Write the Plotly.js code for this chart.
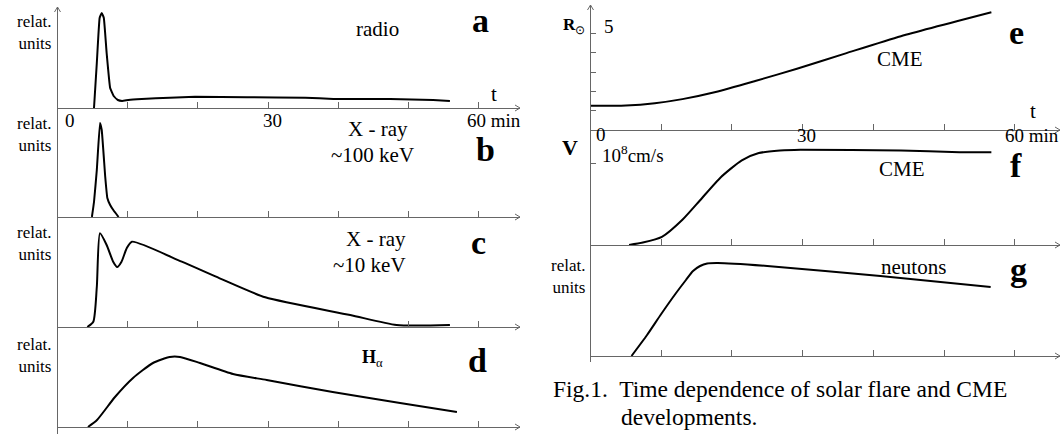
<!DOCTYPE html>
<html><head><meta charset="utf-8">
<script src="https://cdn.plot.ly/plotly-3.0.1.min.js"></script>
<style>html,body{margin:0;padding:0;background:#fff}#g{width:1063px;height:434px}</style>
</head><body><div id="g"></div>
<script>
// ---- data (time in minutes) ----
const tRadio = [5.2, 5.6, 6.0, 6.3, 6.6, 7.0, 7.5, 8.0, 8.6, 9.2, 10.1, 12, 16, 19.6, 27, 35.3, 39.3, 47.4, 53.5, 55.9];
const vRadio = [0, 45, 90, 95, 90, 55, 20, 12, 8, 7, 8, 9, 10.3, 11.3, 10.7, 10.3, 9, 9, 8, 7];
const tHard = [4.9, 5.2, 5.6, 6.05, 6.3, 6.8, 7.1, 7.5, 7.95, 8.7];
const vHard = [0, 15, 47, 94, 87, 40, 19, 12, 7, 0];
const tSoft = [4.25, 5.1, 5.6, 6.05, 7.0, 7.95, 8.5, 9.1, 9.86, 10.6, 17.7, 23.1, 29.6, 41.7, 48.3, 55.9];
const vSoft = [0, 5.3, 40, 93.7, 82, 65, 60, 65, 78.7, 85.3, 65.3, 48.7, 29.7, 12, 2, 2];
const tHa = [4.34, 5.63, 8.19, 10.76, 13.6, 16.0, 17.45, 20.3, 25.0, 29.8, 39.2, 48.8, 56.9];
const vHa = [0, 7, 30, 49, 64, 70, 70, 64, 53, 47, 35, 24, 15];
const tR = [0, 5, 9.1, 13.0, 17.7, 23.3, 29.2, 36.1, 43.9, 56.7];
const vR = [1.25, 1.27, 1.39, 1.60, 1.97, 2.54, 3.17, 3.97, 4.86, 6.10];
const tV = [5.46, 7.4, 10.1, 13.0, 15.5, 18.4, 21.4, 23.8, 26.8, 29.7, 43.9, 52.2, 56.7];
const vV = [0, 0.03, 0.1, 0.31, 0.55, 0.83, 1.04, 1.13, 1.16, 1.17, 1.16, 1.14, 1.14];
const tN = [5.8, 8, 10, 12, 13.5, 14.5, 15.5, 16.5, 18, 25, 41, 56.6];
const vN = [0, 21, 42, 62, 76, 85, 90, 92.5, 93, 90, 80, 69];
const tickT = [10, 20, 30, 40, 50, 60];
const tickR = [1, 2, 3, 4, 5];
const tickV = [1];

// ---- layout helpers (pixel -> paper) ----
const W = 1063, H = 434;
const px = x => x / W, py = y => 1 - y / H;
const AX = '#666', FONT = 'Liberation Serif, Times New Roman, serif';

function xax(x0, x1, scale, yPos) {
  return {domain: [px(x0), px(x1)], range: [0, (x1 - x0) / scale], anchor: 'free', position: py(yPos),
    showline: true, linecolor: AX, linewidth: 1, ticks: 'inside', tickvals: tickT, ticklen: 6,
    tickcolor: AX, tickwidth: 1, showticklabels: false, showgrid: false, zeroline: false, fixedrange: true};
}
function yax(xa, yBot, yTop, r0, r1, tv) {
  return {domain: [py(yBot), py(yTop)], range: [r0, r1], anchor: xa, showline: true, linecolor: AX, linewidth: 1,
    ticks: tv ? 'inside' : '', tickvals: tv || [], ticklen: 5, tickcolor: AX, tickwidth: 1,
    showticklabels: false, showgrid: false, zeroline: false, fixedrange: true};
}

const LS = 7.02, RS = 7.07;
const layout = {
  width: W, height: H, margin: {l: 0, r: 0, t: 0, b: 0, pad: 0},
  paper_bgcolor: '#fff', plot_bgcolor: 'rgba(0,0,0,0)', showlegend: false,
  font: {family: FONT, color: '#000'},
  xaxis: xax(57.5, 520, LS, 108), yaxis: yax('x', 108, 7, 0, 101),
  xaxis2: xax(57.5, 520, LS, 217), yaxis2: yax('x2', 217, 108, 0, 109),
  xaxis3: xax(57.5, 520, LS, 327), yaxis3: yax('x3', 327, 217, 0, 110),
  xaxis4: xax(57.5, 520, LS, 427), yaxis4: yax('x4', 434, 327, -7, 100),
  xaxis5: xax(590.5, 1060, RS, 130), yaxis5: yax('x5', 130, 5, 0, (130 - 5) / 19.3, tickR),
  xaxis6: xax(590.5, 1060, RS, 245), yaxis6: yax('x6', 245, 130, 0, (245 - 130) / 81.4, tickV),
  xaxis7: xax(590.5, 1060, RS, 356), yaxis7: yax('x7', 362, 245, -6, 111),
  annotations: [], shapes: []
};

const L = {color: '#000', width: 2, shape: 'spline', smoothing: 0.5};
const series = [[tRadio, vRadio, 'x', 'y', 0.3], [tHard, vHard, 'x2', 'y2', 0.3], [tSoft, vSoft, 'x3', 'y3', 0.6],
  [tHa, vHa, 'x4', 'y4', 0.6], [tR, vR, 'x5', 'y5', 0.6], [tV, vV, 'x6', 'y6', 0.6], [tN, vN, 'x7', 'y7', 0.6]];
const data = series.map(s => ({x: s[0], y: s[1], xaxis: s[2], yaxis: s[3], type: 'scatter', mode: 'lines',
  hoverinfo: 'skip', line: Object.assign({}, L, {smoothing: s[4]})}));

// text: x pixel, baseline pixel, font size, anchor
function txt(t, x, base, fs, xa) {
  layout.annotations.push({text: t, xref: 'paper', yref: 'paper', x: px(x),
    y: py(base + 0.216 * fs + 1), xanchor: xa || 'center', yanchor: 'bottom', showarrow: false,
    font: {family: FONT, size: fs, color: '#000'}, borderpad: 1});
}
// two-line block centred vertically on yc
function block(t, x, yc, fs, xa) {
  layout.annotations.push({text: t, xref: 'paper', yref: 'paper', x: px(x), y: py(yc),
    xanchor: xa || 'center', yanchor: 'middle', showarrow: false, align: 'right',
    font: {family: FONT, size: fs, color: '#000'}, borderpad: 0});
}
// open arrow heads drawn as shapes (dir: 'r' or 'u')
function head(x, y, dir) {
  const p = dir === 'r'
    ? `M${px(x - 5)},${py(y - 3)} L${px(x)},${py(y)} L${px(x - 5)},${py(y + 3)}`
    : `M${px(x - 3)},${py(y + 5)} L${px(x)},${py(y)} L${px(x + 3)},${py(y + 5)}`;
  layout.shapes.push({type: 'path', xref: 'paper', yref: 'paper', path: p, line: {color: AX, width: 1}});
}
head(57.5, 7, 'u'); head(590.5, 5, 'u');
[108, 217, 327, 427].forEach(y => head(520, y, 'r'));
[130, 245, 356].forEach(y => head(1060, y, 'r'));

const FS = 21, FB = 34, FT = 19, FU = 17;
// left
[32.5, 134, 243.5, 355].forEach(c => block('relat.<br>units', 52, c, FU, 'right'));
txt('radio', 377, 37, FS); txt('<b>a</b>', 480, 33, FB); txt('t', 494, 102, FS);
txt('0', 70, 128, FT); txt('30', 272.5, 128, FT); txt('60 min', 465, 128, FT, 'left');
txt('X - ray', 378, 137, FS); txt('~100 keV', 372, 163, FS); txt('<b>b</b>', 485, 162, FB);
txt('X - ray', 376, 247, FS); txt('~10 keV', 369, 273, FS); txt('<b>c</b>', 478, 255, FB);
txt('<b>H</b><sub>α</sub>', 360, 367, 18, 'left'); txt('<b>d</b>', 477, 373, FB);
// right
txt('<b>R</b><sub>⊙</sub>', 561, 34, 17, 'left'); txt('5', 609, 34, FT);
txt('CME', 900, 67, FS); txt('<b>e</b>', 1016, 45, FB); txt('t', 1033, 119, FS);
txt('0', 601, 142, FT); txt('30', 806, 143, FT); txt('60 min', 1003, 143, FT, 'left');
txt('<b>V</b>', 570, 156, 22); txt('10<sup>8</sup>cm/s', 600, 163, FT, 'left');
txt('CME', 902, 177, FS); txt('<b>f</b>', 1016, 178, FB);
block('relat.<br>units', 586, 276, FU, 'right');
txt('neutons', 913, 275, FS); txt('<b>g</b>', 1018, 282, FB);
txt('Fig.1.\u00a0 Time dependence of solar flare and CME', 551, 398, 23.5, 'left');
txt('developments.', 619, 426, 23.5, 'left');

Plotly.newPlot('g', data, layout, {staticPlot: true, displayModeBar: false});
</script></body></html>
